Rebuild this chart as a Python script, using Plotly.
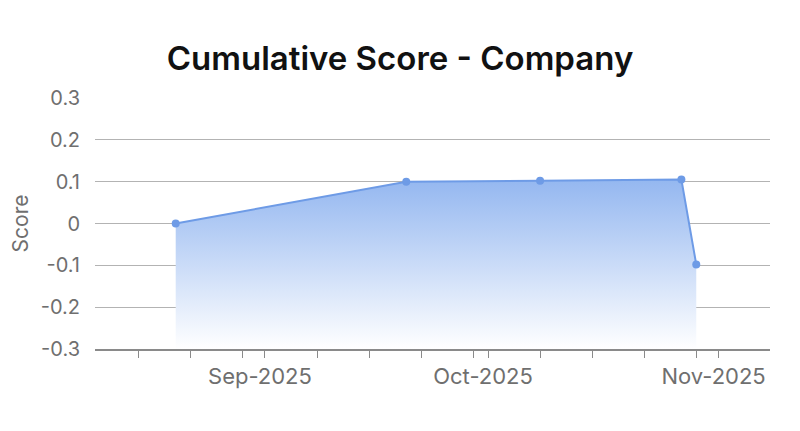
import plotly.graph_objects as go

# data
dates = ["2025-08-20", "2025-09-20", "2025-10-08", "2025-10-27", "2025-10-29"]
scores = [0.0, 0.100, 0.102, 0.105, -0.098]

month_ticks = ["2025-09-01", "2025-10-01", "2025-11-01"]
month_labels = ["Sep-2025", "Oct-2025", "Nov-2025"]
week_ticks = ["2025-08-15", "2025-08-22", "2025-08-29",
              "2025-09-08", "2025-09-15", "2025-09-22", "2025-09-29",
              "2025-10-08", "2025-10-15", "2025-10-22", "2025-10-29"]

y_ticks = [-0.3, -0.2, -0.1, 0, 0.1, 0.2, 0.3]
y_labels = ["-0.3", "-0.2", "-0.1", "0", "0.1", "0.2", "0.3"]
x_range = ["2025-08-09 03:30", "2025-11-07 22:00"]

line_col = "#6e9be6"
grey = "#6f6f6f"

fig = go.Figure()

# invisible baseline at the bottom of the y range, so the fill reaches the axis
fig.add_trace(go.Scatter(
    x=[dates[0], dates[-1]], y=[y_ticks[0], y_ticks[0]],
    mode="lines", line=dict(width=0), hoverinfo="skip", showlegend=False))

fig.add_trace(go.Scatter(
    x=dates, y=scores,
    mode="lines+markers",
    line=dict(color=line_col, width=2),
    marker=dict(color=line_col, size=8),
    fill="tonexty",
    fillgradient=dict(type="vertical",
                      colorscale=[[0, "rgba(255,255,255,1)"], [1, "#94b7f0"]],
                      start=y_ticks[0], stop=max(scores)),
    showlegend=False))

# the page body has an 8px margin, so the figure is shifted left/up by that
fig.update_layout(
    width=800, height=431,
    margin=dict(l=87, r=38, t=90, b=90),
    paper_bgcolor="white", plot_bgcolor="white",
    font=dict(family="Inter", color=grey),
    title=dict(text="Cumulative Score - Company", x=392 / 800, xanchor="center",
               y=1 - 50 / 431, yref="container", yanchor="middle",
               font=dict(size=33, color="#111111", family="Inter", weight=600)),
)

fig.update_xaxes(
    type="date", range=x_range,
    tickmode="array", tickvals=month_ticks, ticktext=month_labels,
    tickfont=dict(size=22, color=grey), ticklabelshift=-5,
    ticks="outside", ticklen=7, tickwidth=1.3, tickcolor="#8a8a8a",
    minor=dict(tickmode="array", tickvals=week_ticks, ticks="outside",
               ticklen=7, tickwidth=1.3, tickcolor="#8a8a8a", showgrid=False),
    showgrid=False, showline=True, linecolor="#8a8a8a", linewidth=1.6,
    zeroline=False, automargin=False,
)

fig.update_yaxes(
    range=[y_ticks[0], y_ticks[-1]],
    tickmode="array", tickvals=y_ticks, ticktext=y_labels,
    tickfont=dict(size=20, color=grey),
    ticks="outside", ticklen=10, tickcolor="rgba(0,0,0,0)",
    showgrid=True, gridcolor="#b3b3b3", gridwidth=1,
    zeroline=False, showline=False, automargin=False,
    title=dict(text="Score", font=dict(size=21, color=grey), standoff=10),
)

fig.write_html("out.html")
